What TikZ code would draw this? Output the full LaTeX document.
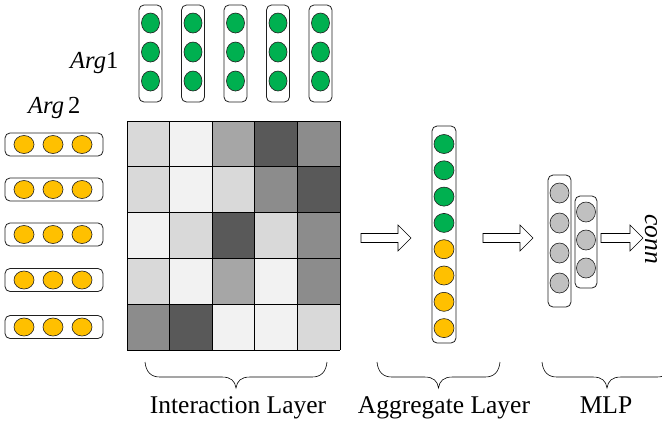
\documentclass[tikz,border=0pt]{standalone}
\usepackage{fontspec}
\setmainfont{Liberation Serif}
\usetikzlibrary{shapes.geometric}
\definecolor{gfill}{HTML}{00B050}
\definecolor{ofill}{HTML}{FFC000}
\definecolor{cfill}{HTML}{C0C0C0}
\definecolor{edgec}{HTML}{202020}
\definecolor{gA}{HTML}{D9D9D9}
\definecolor{gB}{HTML}{F2F2F2}
\definecolor{gC}{HTML}{A6A6A6}
\definecolor{gD}{HTML}{595959}
\definecolor{gE}{HTML}{8C8C8C}
\newcommand\mybrace[2]{%
  \draw[bracest] (#1,362) .. controls ({#1+1},372) and ({#1+6},377) .. ({#1+15},377)
    -- ({(#1+#2)/2-14},377) .. controls ({(#1+#2)/2-5},377) and ({(#1+#2)/2-1},381) .. ({(#1+#2)/2},388)
    .. controls ({(#1+#2)/2+1},381) and ({(#1+#2)/2+5},377) .. ({(#1+#2)/2+14},377)
    -- ({#2-15},377) .. controls ({#2-6},377) and ({#2-1},372) .. (#2,362);}
\newcommand\hollowarrow[4]{%
  \draw[arrowst] (#1,{#4-4.5}) -- (#2,{#4-4.5}) -- (#2,{#4-13}) -- (#3,#4)
    -- (#2,{#4+13}) -- (#2,{#4+4.5}) -- (#1,{#4+4.5}) -- cycle;}
\begin{document}
\begin{tikzpicture}[x=1pt,y=-1pt,
  pill/.style={draw=edgec,line width=0.8pt,rounded corners=5pt,fill=white,inner sep=0pt},
  dot/.style={ellipse,draw=edgec,line width=0.6pt,inner sep=0pt,minimum width=18pt,minimum height=20pt},
  gdot/.style={dot,fill=gfill},
  odot/.style={dot,fill=ofill,minimum width=20pt,minimum height=18pt},
  cdot/.style={dot,fill=cfill,minimum width=19pt,minimum height=20pt},
  cell/.style={draw=black,line width=0.9pt},
  bracest/.style={draw=black,line width=0.6pt},
  arrowst/.style={draw=black,line width=0.6pt,fill=white},
  lab/.style={font=\fontsize{25.5}{30}\selectfont,anchor=base,inner sep=0pt},
  arglab/.style={font=\fontsize{24.5}{29}\selectfont,anchor=base west,inner sep=0pt}]
\useasboundingbox (0,0) rectangle (662,424);
% Arg1 columns
\foreach \x [count=\i] in {150.5,193,235.5,278,320.5}{
  \node[pill,minimum width=23pt,minimum height=97pt] (col\i) at (\x,53.5) {};
  \foreach \y [count=\j] in {23,52,81}
    \node[gdot] (g\i\j) at (\x,\y) {};
}
% Arg2 rows
\foreach \y [count=\i] in {144.5,189.5,234.5,280,327}{
  \node[pill,minimum width=98pt,minimum height=23pt] (row\i) at (54,\y) {};
  \foreach \x [count=\j] in {24,53,82}
    \node[odot] (o\i\j) at (\x,\y) {};
}
\node[arglab] (arg1) at (70,68) {\textit{Arg}1};
\node[arglab] (arg2) at (28,113) {\textit{Arg}\,2};
% interaction matrix
\foreach \row [count=\r] in {{gA,gB,gC,gD,gE},{gA,gB,gA,gE,gD},{gB,gA,gD,gA,gE},{gA,gB,gC,gB,gE},{gE,gD,gB,gB,gA}}{
  \foreach \c [count=\k] in \row {
    \fill[\c] ({127+42.6*(\k-1)},{121+45.8*(\r-1)}) rectangle ({127+42.6*\k},{121+45.8*\r});
  }
}
\foreach \k in {0,...,5}{
  \draw[cell] ({127+42.6*\k},121) -- ({127+42.6*\k},350);
  \draw[cell] (127,{121+45.8*\k}) -- (340,{121+45.8*\k});
}
% aggregate layer
\node[pill,minimum width=24pt,minimum height=217pt] (agg) at (444,234.5) {};
\foreach \k in {0,...,3}
  \node[gdot,minimum width=20pt,minimum height=19pt] (ag\k) at (444,{144+26.3*\k}) {};
\foreach \k in {4,...,7}
  \node[odot,minimum width=20pt,minimum height=19pt] (ag\k) at (444,{144+26.3*\k}) {};
% MLP
\node[pill,minimum width=23pt,minimum height=132pt] (mlp1) at (559.5,241) {};
\foreach \y [count=\j] in {193,223,253,283}
  \node[cdot] (m1\j) at (559.5,\y) {};
\node[pill,minimum width=22pt,minimum height=92pt] (mlp2) at (586,242) {};
\foreach \y [count=\j] in {212,240,268}
  \node[cdot] (m2\j) at (586,\y) {};
% arrows
\hollowarrow{361}{398}{411}{238}
\hollowarrow{483}{520}{533}{238}
\hollowarrow{601}{630}{643}{238}
\node[font=\fontsize{25.5}{30}\selectfont\itshape,rotate=-90,inner sep=0pt] (conn) at (651,239) {conn};
% braces and labels
\mybrace{145}{327}
\mybrace{377}{500}
\mybrace{542}{672}
\node[lab] (l1) at (238,413) {Interaction Layer};
\node[lab] (l2) at (444,413) {Aggregate Layer};
\node[lab] (l3) at (606,413) {MLP};
\end{tikzpicture}
\end{document}
